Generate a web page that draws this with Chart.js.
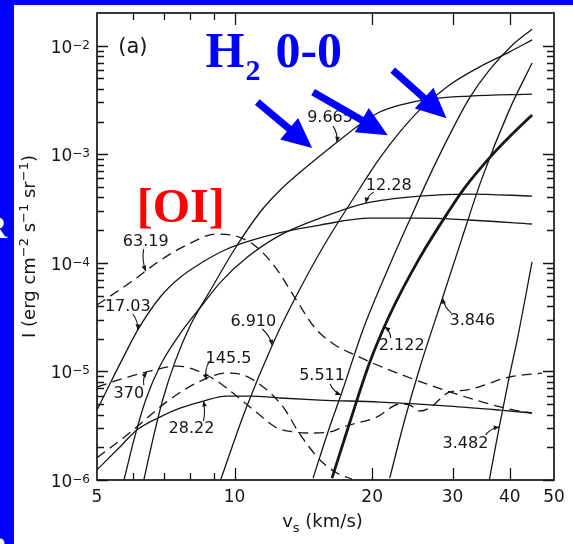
<!DOCTYPE html>
<html>
<head>
<meta charset="utf-8">
<title>Line intensities versus shock speed</title>
<script src="https://cdn.jsdelivr.net/npm/chart.js@4.4.1/dist/chart.umd.min.js"></script>
<style>
  html, body { margin: 0; padding: 0; background: #ffffff; overflow: hidden; }
  #chart { display: block; }
</style>
</head>
<body>
<canvas id="chart" width="573" height="544"></canvas>
<script>
// Emergent line intensity I (erg cm^-2 s^-1 sr^-1) against shock speed v_s (km/s).
// Each array holds [v_s, I] pairs for one emission line (wavelength in micron).

// H2 lines
const h2_28_22 = [[5.0,1.24e-6],[5.64,2.06e-6],[6.11,2.89e-6],[6.86,3.80e-6],[7.62,4.61e-6],[8.55,5.34e-6],[9.60,5.93e-6],[10.83,5.93e-6],[12.59,5.69e-6],[15.38,5.45e-6],[20.78,5.22e-6],[29.53,4.80e-6],[37.95,4.41e-6],[44.77,4.14e-6]];
const h2_17_03 = [[5.0,4.41e-6],[5.36,7.98e-6],[5.73,1.39e-5],[6.14,2.41e-5],[6.89,4.9e-5],[7.62,7.4e-5],[8.43,9.9e-5],[9.55,1.32e-4],[10.83,1.60e-4],[12.59,1.90e-4],[15.38,2.23e-4],[19.77,2.58e-4],[25.41,2.58e-4],[32.65,2.48e-4],[44.77,2.28e-4]];
const h2_12_28 = [[5.73,1.0e-6],[6.02,2.33e-6],[6.39,5.45e-6],[6.89,1.15e-5],[7.62,2.26e-5],[8.43,3.92e-5],[9.32,6.65e-5],[10.67,1.13e-4],[12.59,1.80e-4],[15.38,2.58e-4],[19.38,3.55e-4],[25.41,4.12e-4],[32.65,4.30e-4],[44.77,4.12e-4]];
const h2_9_665 = [[6.33,1.0e-6],[6.62,2.33e-6],[6.96,5.45e-6],[7.43,1.27e-5],[8.01,2.68e-5],[8.86,5.62e-5],[10.04,1.37e-4],[11.38,2.94e-4],[12.59,4.68e-4],[14.27,7.46e-4],[16.75,1.29e-3],[18.80,1.88e-3],[20.78,2.45e-3],[22.98,2.84e-3],[26.71,3.22e-3],[32.65,3.43e-3],[44.77,3.58e-3]];
const h2_6_910 = [[9.32,1.0e-6],[10.56,4.41e-6],[12.15,1.83e-5],[13.57,4.74e-5],[15.62,1.40e-4],[18.52,4.40e-4],[20.78,9.2e-4],[22.98,1.60e-3],[25.41,2.55e-3],[29.53,4.34e-3],[34.32,6.35e-3],[39.90,8.73e-3],[44.77,1.13e-2]];
const h2_5_511 = [[14.85,1.04e-6],[16.01,2.77e-6],[17.18,6.46e-6],[19.09,2.41e-5],[21.85,9.54e-5],[24.16,2.48e-4],[26.44,5.78e-4],[29.53,1.50e-3],[32.65,3.29e-3],[36.09,5.96e-3],[40.51,1.01e-2],[44.77,1.42e-2]];
const h2_2_122 = [[16.34,1.04e-6],[17.88,3.42e-6],[19.77,1.22e-5],[21.85,3.31e-5],[25.41,1.11e-4],[29.53,3.06e-4],[31.84,4.88e-4],[36.09,9.22e-4],[39.90,1.44e-3],[44.77,2.30e-3]];
const h2_3_846 = [[21.85,1.04e-6],[23.56,3.57e-6],[25.41,1.07e-5],[28.51,4.74e-5],[31.36,1.62e-4],[34.67,5.78e-4],[39.90,2.55e-3],[44.77,6.92e-3]];
const h2_3_482 = [[36.09,1.0e-6],[37.95,3.08e-6],[39.90,8.88e-6],[41.54,1.95e-5],[44.77,1.02e-4]];

// fine-structure lines
const oi_63_19 = [[5.0,4.09e-5],[5.93,6.65e-5],[6.89,1.06e-4],[8.01,1.52e-4],[9.08,1.84e-4],[10.04,1.77e-4],[11.10,1.43e-4],[12.27,9.14e-5],[13.57,4.74e-5],[15.00,2.51e-5],[16.59,1.75e-5],[18.33,1.42e-5],[20.27,1.17e-5],[22.98,9.46e-6],[26.71,7.5e-6],[31.05,6.06e-6],[36.09,5.01e-6],[40.92,4.41e-6],[44.77,4.14e-6]];
const oi_145_5 = [[5.0,1.6e-6],[5.93,2.77e-6],[7.10,5.24e-6],[8.26,7.83e-6],[9.60,9.66e-6],[10.56,9.1e-6],[11.97,6.34e-6],[12.91,4.42e-6],[13.71,2.89e-6],[15.38,1.53e-6],[16.75,1.16e-6],[18.06,1.02e-6]];
const ci_370 = [[5.0,7.18e-6],[5.84,8.88e-6],[6.55,1.01e-5],[7.51,1.12e-5],[8.22,1.03e-5],[9.08,8.33e-6],[10.04,6.06e-6],[11.21,4.14e-6],[12.27,3.08e-6],[13.43,2.77e-6],[14.63,2.71e-6],[16.18,2.77e-6],[17.26,3.08e-6],[20.48,3.80e-6],[22.98,5.0e-6],[24.16,4.9e-6],[25.41,4.32e-6],[26.71,4.61e-6],[29.53,6.46e-6],[32.17,6.74e-6],[39.90,8.88e-6],[47.08,9.66e-6]];

// axis ticks
const xTickValues = [5, 10, 20, 30, 40, 50];
const yTickExponents = [-6, -5, -4, -3, -2];

const series = [
  { name: '28.22', pts: h2_28_22 },
  { name: '17.03', pts: h2_17_03 },
  { name: '12.28', pts: h2_12_28 },
  { name: '9.665', pts: h2_9_665 },
  { name: '6.910', pts: h2_6_910 },
  { name: '5.511', pts: h2_5_511 },
  { name: '2.122', pts: h2_2_122, heavy: true },
  { name: '3.846', pts: h2_3_846 },
  { name: '3.482', pts: h2_3_482 },
  { name: '63.19', pts: oi_63_19, dashed: true },
  { name: '145.5', pts: oi_145_5, dashed: true },
  { name: '370',   pts: ci_370,   dashed: true }
];

// curve labels: text centre in data coordinates, leader start offset (px) and the v_s it points at
const curveLabels = [
  { name: '9.665', v: 16.18, I: 2.15e-3, from: [3, 8],    at: 16.75, bend: -3 },
  { name: '12.28', v: 21.74, I: 5.09e-4, from: [-15, 6],  at: 19.38, bend: 3 },
  { name: '63.19', v: 6.39,  I: 1.55e-4, from: [-2, 7],   at: 6.39,  bend: 3 },
  { name: '17.03', v: 5.84,  I: 3.92e-5, from: [5, 7],    at: 6.14,  bend: -3 },
  { name: '6.910', v: 10.99, I: 2.85e-5, from: [9, 7],    at: 12.09, bend: -3 },
  { name: '3.846', v: 33.14, I: 2.91e-5, from: [-21, -8], at: 28.51, bend: -3 },
  { name: '2.122', v: 23.21, I: 1.71e-5, from: [-11, -8], at: 21.31, bend: 3 },
  { name: '145.5', v: 9.70,  I: 1.30e-5, from: [-19, 2],  at: 8.68,  bend: 4 },
  { name: '5.511', v: 15.54, I: 9.07e-6, from: [8, 8],    at: 17.09, bend: 3 },
  { name: '370',   v: 5.87,  I: 6.19e-6, from: [15, -9],  at: 6.43,  bend: -3 },
  { name: '28.22', v: 8.05,  I: 2.95e-6, from: [12, -8],  at: 8.55,  bend: 2 },
  { name: '3.482', v: 32.0,  I: 2.15e-6, from: [20, -9],  at: 37.95, bend: -3 }
];

// block arrows pointing at the H2 0-0 curves: [tail v, tail I, tip v, tip I]
const blueArrows = [
  [11.21, 3.03e-3, 14.78, 1.14e-3],
  [14.85, 3.74e-3, 21.64, 1.50e-3],
  [22.19, 5.96e-3, 29.09, 2.15e-3]
];

const LINE_COLOR = '#161616';
const SANS = '"DejaVu Sans", sans-serif';
const SERIF = '"Liberation Serif", "Times New Roman", serif';

function pointOn(chart, name, v) {
  const p = series.find(s => s.name === name).pts;
  const lv = Math.log10(v);
  for (let i = 0; i < p.length - 1; i++) {
    const a = Math.log10(p[i][0]), b = Math.log10(p[i + 1][0]);
    if (lv >= a && lv <= b) {
      const t = (lv - a) / (b - a);
      const ly = Math.log10(p[i][1]) + t * (Math.log10(p[i + 1][1]) - Math.log10(p[i][1]));
      return { x: chart.scales.x.getPixelForValue(v), y: chart.scales.y.getPixelForValue(Math.pow(10, ly)) };
    }
  }
  return null;
}

function px(chart, v, I) {
  return { x: chart.scales.x.getPixelForValue(v), y: chart.scales.y.getPixelForValue(I) };
}

// text made of runs with their own size and vertical shift (super/subscripts)
function richWidth(ctx, runs, family, weight) {
  let w = 0;
  for (const r of runs) { ctx.font = `${weight || ''} ${r.size}px ${family}`; w += ctx.measureText(r.t).width; }
  return w;
}
function drawRich(ctx, runs, x, y, family, align, weight) {
  const w = richWidth(ctx, runs, family, weight);
  let cx = align === 'right' ? x - w : align === 'center' ? x - w / 2 : x;
  ctx.textAlign = 'left';
  ctx.textBaseline = 'alphabetic';
  for (const r of runs) {
    ctx.font = `${weight || ''} ${r.size}px ${family}`;
    ctx.fillText(r.t, cx, y + (r.dy || 0));
    cx += ctx.measureText(r.t).width;
  }
}

function leader(ctx, x0, y0, x1, y1, bend) {
  const dx = x1 - x0, dy = y1 - y0, L = Math.hypot(dx, dy) || 1;
  const cx = (x0 + x1) / 2 - dy / L * bend, cy = (y0 + y1) / 2 + dx / L * bend;
  ctx.beginPath();
  ctx.moveTo(x0, y0);
  ctx.quadraticCurveTo(cx, cy, x1, y1);
  ctx.stroke();
  const tx = x1 - cx, ty = y1 - cy, tl = Math.hypot(tx, ty) || 1;
  const ux = tx / tl, uy = ty / tl, h = 5.5, w = 2.4;
  ctx.beginPath();
  ctx.moveTo(x1, y1);
  ctx.lineTo(x1 - ux * h - uy * w, y1 - uy * h + ux * w);
  ctx.lineTo(x1 - ux * h + uy * w, y1 - uy * h - ux * w);
  ctx.closePath();
  ctx.fill();
}

function blockArrow(ctx, x0, y0, x1, y1) {
  const dx = x1 - x0, dy = y1 - y0, L = Math.hypot(dx, dy);
  const ux = dx / L, uy = dy / L, nx = -uy, ny = ux;
  const hl = 30, hw = 14, sw = 3.6;
  const bx = x1 - ux * hl, by = y1 - uy * hl;
  ctx.beginPath();
  ctx.moveTo(x0 + nx * sw, y0 + ny * sw);
  ctx.lineTo(bx + nx * sw, by + ny * sw);
  ctx.lineTo(bx + nx * hw, by + ny * hw);
  ctx.lineTo(x1, y1);
  ctx.lineTo(bx - nx * hw, by - ny * hw);
  ctx.lineTo(bx - nx * sw, by - ny * sw);
  ctx.lineTo(x0 - nx * sw, y0 - ny * sw);
  ctx.closePath();
  ctx.fill();
}

const slideBackdrop = {
  id: 'slideBackdrop',
  beforeDraw(chart) {
    const c = chart.ctx;
    c.save();
    c.fillStyle = '#ffffff';
    c.fillRect(0, 0, chart.width, chart.height);
    c.fillStyle = '#0000ff';
    c.fillRect(0, 0, 14, chart.height);
    c.fillRect(0, 0, chart.width, 5);
    c.fillStyle = '#ffffff';
    c.font = `bold 32px ${SERIF}`;
    c.textBaseline = 'alphabetic';
    c.fillText('R', -16, 238);
    c.beginPath();
    c.arc(0, 543, 4.5, 0, Math.PI * 2);
    c.fill();
    c.restore();
  }
};

const frameAndNotes = {
  id: 'frameAndNotes',
  afterDatasetsDraw(chart) {
    const c = chart.ctx;
    const xs = chart.scales.x, ys = chart.scales.y;
    const { left, right, top, bottom } = chart.chartArea;
    c.save();
    c.strokeStyle = LINE_COLOR;
    c.fillStyle = LINE_COLOR;

    // frame
    c.lineWidth = 1.7;
    c.strokeRect(left, top, right - left, bottom - top);

    // inward tick marks on all four sides
    c.lineWidth = 1.3;
    c.beginPath();
    for (let e = -6; e <= -2; e++) {
      for (let m = 1; m <= 9; m++) {
        const v = m * Math.pow(10, e);
        if (v >= ys.max * 0.999 || v <= ys.min * 1.001 && m !== 1) continue;
        const y = Math.round(ys.getPixelForValue(v)) + 0.5;
        const L = m === 1 ? 11 : 7;
        c.moveTo(left, y); c.lineTo(left + L, y);
        c.moveTo(right, y); c.lineTo(right - L, y);
      }
    }
    for (const v of [6, 7, 8, 9, 10, 20, 30, 40]) {
      const x = Math.round(xs.getPixelForValue(v)) + 0.5;
      const L = v >= 10 ? 12 : 7;
      c.moveTo(x, bottom); c.lineTo(x, bottom - L);
      c.moveTo(x, top); c.lineTo(x, top + L);
    }
    c.stroke();

    // tick labels
    for (const t of ys.ticks) {
      const y = ys.getPixelForValue(t.value);
      const e = Math.round(Math.log10(t.value));
      drawRich(c, [{ t: '10', size: 17 }, { t: '\u2212' + Math.abs(e), size: 12, dy: -4 }], left - 7, y + 7, SANS, 'right');
    }
    c.font = `17px ${SANS}`;
    c.textAlign = 'center';
    c.textBaseline = 'alphabetic';
    for (const t of xs.ticks) {
      c.fillText(String(t.value), xs.getPixelForValue(t.value), bottom + 22);
    }

    // axis titles
    drawRich(c, [{ t: 'v', size: 18 }, { t: 's', size: 13, dy: 5 }, { t: ' (km/s)', size: 18 }],
      (left + right) / 2 - 3, bottom + 47, SANS, 'center');
    c.save();
    c.translate(35, (top + bottom) / 2);
    c.rotate(-Math.PI / 2);
    drawRich(c, [
      { t: 'I (erg cm', size: 18 }, { t: '\u22122', size: 13, dy: -7 },
      { t: ' s', size: 18 }, { t: '\u22121', size: 13, dy: -7 },
      { t: ' sr', size: 18 }, { t: '\u22121', size: 13, dy: -7 },
      { t: ')', size: 18 }
    ], 0, 0, SANS, 'center');
    c.restore();

    // panel tag
    c.font = `21px ${SANS}`;
    c.textAlign = 'center';
    c.textBaseline = 'middle';
    const tag = px(chart, 5.99, 9.7e-3);
    c.fillText('(a)', tag.x, tag.y);

    // curve labels with small leader arrows
    c.lineWidth = 1.1;
    for (const lab of curveLabels) {
      const p = px(chart, lab.v, lab.I);
      c.font = `16px ${SANS}`;
      c.textAlign = 'center';
      c.textBaseline = 'middle';
      c.fillText(lab.name, p.x, p.y);
      const q = pointOn(chart, lab.name, lab.at);
      if (q) leader(c, p.x + lab.from[0], p.y + lab.from[1], q.x, q.y, lab.bend);
    }

    // highlighted groups
    c.fillStyle = '#0000ff';
    for (const a of blueArrows) {
      const p0 = px(chart, a[0], a[1]), p1 = px(chart, a[2], a[3]);
      blockArrow(c, p0.x, p0.y, p1.x, p1.y);
    }
    const h2 = px(chart, 8.64, 6.35e-3);
    c.textAlign = 'left';
    c.textBaseline = 'alphabetic';
    c.font = `bold 50px ${SERIF}`;
    c.fillText('H', h2.x, h2.y);
    let hx = h2.x + c.measureText('H').width + 1;
    c.font = `bold 30px ${SERIF}`;
    c.fillText('2', hx, h2.y + 13);
    hx += c.measureText('2').width + 15;
    c.font = `bold 50px ${SERIF}`;
    c.fillText('0-0', hx, h2.y);

    c.fillStyle = '#ff0000';
    const oi = px(chart, 6.11, 2.37e-4);
    c.font = `bold 48px ${SERIF}`;
    c.fillText('[OI]', oi.x, oi.y);

    c.restore();
  }
};

new Chart(document.getElementById('chart'), {
  type: 'scatter',
  data: {
    datasets: series.map(s => ({
      label: s.name,
      data: s.pts.map(([x, y]) => ({ x, y })),
      showLine: true,
      borderColor: LINE_COLOR,
      borderWidth: s.heavy ? 2.8 : 1.3,
      borderDash: s.dashed ? [10, 6] : [],
      pointRadius: 0,
      pointHoverRadius: 0,
      cubicInterpolationMode: 'monotone',
      fill: false
    }))
  },
  options: {
    responsive: false,
    animation: false,
    devicePixelRatio: 1,
    events: [],
    layout: { padding: { left: 0, right: 19, top: 13, bottom: 0 } },
    plugins: { legend: { display: false }, tooltip: { enabled: false } },
    scales: {
      x: {
        type: 'logarithmic', min: 5, max: 50,
        grid: { display: false }, border: { display: false },
        ticks: { display: false },
        afterBuildTicks(s) { s.ticks = xTickValues.map(v => ({ value: v })); },
        afterFit(s) { s.height = 64; }
      },
      y: {
        type: 'logarithmic', min: 1e-6, max: 2e-2,
        grid: { display: false }, border: { display: false },
        ticks: { display: false },
        afterBuildTicks(s) { s.ticks = yTickExponents.map(e => ({ value: Math.pow(10, e) })); },
        afterFit(s) { s.width = 97; }
      }
    }
  },
  plugins: [slideBackdrop, frameAndNotes]
});
</script>
</body>
</html>
